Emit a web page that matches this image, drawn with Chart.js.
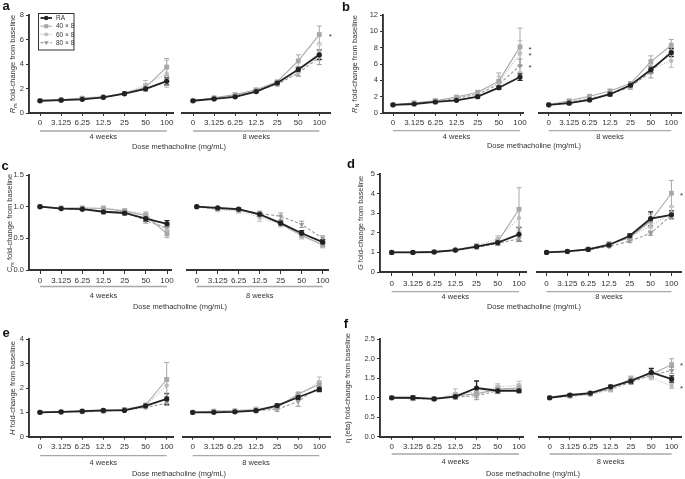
<!DOCTYPE html>
<html><head><meta charset="utf-8">
<script src="https://cdn.jsdelivr.net/npm/chart.js@4.4.1/dist/chart.umd.min.js"></script>
<style>
html,body{margin:0;padding:0;background:#fff;}
body{width:685px;height:479px;position:relative;overflow:hidden;font-family:"Liberation Sans",Arial,sans-serif;color:#333;}
canvas{position:absolute;}
.lbl{position:absolute;font-weight:bold;font-size:13px;line-height:1;color:#111;transform:translate(-50%,-50%);}
.ytitle{position:absolute;font-size:7.5px;white-space:nowrap;transform:translate(-50%,-50%) rotate(-90deg);line-height:1;}
.ytitle sub{font-size:5.5px;vertical-align:-1.5px;line-height:0;}
.dose{position:absolute;font-size:7.5px;white-space:nowrap;transform:translate(-50%,-50%);line-height:1;}
</style></head><body>
<script>
// ---------------- DATA ----------------
const doses = ['0','3.125','6.25','12.5','25','50','100'];
const groups = ['RA','40 × 8','60 × 8','80 × 8'];
const periods = ['4 weeks','8 weeks'];

// (a) Rrs  — rows: RA, 40x8, 60x8, 80x8
const aTicks = [0,2,4,6,8];
const a4 = [[1.00,1.05,1.12,1.28,1.58,1.97,2.60],[1.00,1.08,1.20,1.30,1.60,2.10,3.75],[1.00,1.10,1.25,1.35,1.62,2.30,3.20],[1.00,1.06,1.15,1.30,1.55,1.95,2.55]];
const a4err = [[0.03,0.04,0.05,0.06,0.10,0.12,0.30],[0.03,0.05,0.08,0.08,0.12,0.30,0.70],[0.03,0.05,0.08,0.08,0.12,0.35,1.10],[0.03,0.05,0.06,0.08,0.10,0.15,0.30]];
const a8 = [[1.00,1.15,1.32,1.75,2.45,3.55,4.75],[1.00,1.25,1.50,1.90,2.55,4.25,6.40],[1.00,1.22,1.45,1.85,2.40,3.30,5.00],[1.00,1.20,1.40,1.80,2.35,3.25,4.55]];
const a8err = [[0.03,0.05,0.06,0.08,0.12,0.20,0.40],[0.03,0.06,0.08,0.10,0.10,0.50,0.70],[0.03,0.06,0.08,0.10,0.15,0.25,0.55],[0.03,0.06,0.08,0.10,0.15,0.25,0.60]];
const aStars = [6.35];

// (b) RN
const bTicks = [0,2,4,6,8,10,12];
const b4 = [[1.00,1.10,1.35,1.55,2.00,3.10,4.40],[1.00,1.25,1.50,1.95,2.55,3.90,8.10],[1.00,1.20,1.45,1.85,2.40,3.70,7.30],[1.00,1.15,1.40,1.80,2.30,3.50,5.80]];
const b4err = [[0.05,0.08,0.10,0.10,0.15,0.20,0.40],[0.05,0.10,0.15,0.15,0.20,1.00,2.30],[0.05,0.10,0.30,0.15,0.20,0.80,1.60],[0.05,0.10,0.15,0.15,0.20,0.50,0.80]];
const b8 = [[1.00,1.20,1.60,2.30,3.40,5.30,7.40],[1.00,1.50,2.05,2.70,3.60,6.30,8.30],[1.00,1.35,1.80,2.40,3.30,5.40,6.40],[1.00,1.30,1.75,2.30,3.20,5.00,7.60]];
const b8err = [[0.05,0.08,0.10,0.20,0.20,0.40,0.50],[0.05,0.10,0.15,0.20,0.25,0.70,0.70],[0.05,0.10,0.15,0.20,0.25,0.60,0.80],[0.05,0.10,0.15,0.20,0.30,0.70,0.50]];
const bStars = [8.0,7.3,5.8];

// (c) Crs
const cTicks = [0,0.5,1.0,1.5];
const c4 = [[1.00,0.97,0.96,0.92,0.90,0.81,0.73],[1.00,0.98,0.98,0.97,0.93,0.86,0.57],[1.00,0.98,0.98,0.98,0.94,0.88,0.62],[1.00,0.97,0.96,0.93,0.91,0.78,0.66]];
const c4err = [[0.01,0.01,0.015,0.03,0.03,0.04,0.05],[0.01,0.015,0.02,0.03,0.03,0.04,0.06],[0.01,0.015,0.02,0.03,0.03,0.04,0.06],[0.01,0.015,0.02,0.03,0.03,0.04,0.05]];
const c8 = [[1.00,0.98,0.96,0.88,0.74,0.58,0.44],[1.00,0.97,0.95,0.87,0.73,0.55,0.40],[1.00,0.95,0.93,0.83,0.72,0.53,0.39],[1.00,0.96,0.95,0.89,0.85,0.72,0.50]];
const c8err = [[0.01,0.015,0.02,0.03,0.03,0.04,0.04],[0.01,0.015,0.02,0.03,0.03,0.04,0.04],[0.01,0.03,0.03,0.06,0.04,0.04,0.04],[0.01,0.02,0.02,0.04,0.05,0.05,0.04]];

// (d) G
const dTicks = [0,1,2,3,4,5];
const d4 = [[1.00,1.00,1.02,1.12,1.30,1.50,1.92],[1.00,1.00,1.03,1.12,1.30,1.55,3.20],[1.00,1.01,1.05,1.15,1.35,1.70,2.75],[1.00,1.00,1.02,1.10,1.25,1.45,1.70]];
const d4err = [[0.02,0.02,0.03,0.04,0.08,0.10,0.35],[0.02,0.02,0.03,0.04,0.10,0.15,1.10],[0.02,0.02,0.03,0.04,0.10,0.15,0.50],[0.02,0.02,0.03,0.04,0.08,0.10,0.15]];
const d8 = [[1.00,1.05,1.15,1.38,1.85,2.72,2.92],[1.00,1.05,1.17,1.42,1.75,2.60,4.02],[1.00,1.06,1.18,1.45,1.80,2.35,3.00],[1.00,1.04,1.13,1.30,1.58,1.97,2.90]];
const d8err = [[0.02,0.03,0.04,0.06,0.10,0.35,0.20],[0.02,0.03,0.05,0.10,0.10,0.35,0.65],[0.02,0.03,0.05,0.10,0.10,0.25,0.30],[0.02,0.03,0.04,0.06,0.08,0.10,0.15]];
const dStars = [4.0];

// (e) H
const eTicks = [0,1,2,3,4];
const e4 = [[1.00,1.02,1.05,1.08,1.08,1.27,1.55],[1.00,1.01,1.03,1.05,1.12,1.30,2.35],[1.00,1.02,1.04,1.07,1.13,1.28,2.10],[1.00,1.01,1.02,1.04,1.10,1.20,1.38]];
const e4err = [[0.02,0.02,0.03,0.04,0.04,0.06,0.22],[0.02,0.02,0.03,0.04,0.05,0.06,0.70],[0.02,0.02,0.03,0.04,0.05,0.06,0.30],[0.02,0.02,0.03,0.04,0.05,0.05,0.10]];
const e8 = [[1.00,1.00,1.02,1.07,1.28,1.62,1.95],[1.00,1.05,1.06,1.10,1.20,1.75,2.15],[1.00,1.05,1.08,1.15,1.25,1.70,2.25],[1.00,1.03,1.05,1.08,1.12,1.45,2.05]];
const e8err = [[0.02,0.02,0.03,0.04,0.06,0.10,0.10],[0.02,0.03,0.03,0.05,0.06,0.08,0.15],[0.02,0.03,0.03,0.06,0.06,0.10,0.20],[0.02,0.03,0.03,0.05,0.08,0.20,0.15]];

// (f) eta
const fTicks = [0,0.5,1.0,1.5,2.0,2.5];
const f4 = [[1.00,1.00,0.97,1.03,1.25,1.18,1.18],[1.00,0.98,0.98,1.05,1.10,1.22,1.25],[1.00,0.98,0.97,1.10,1.15,1.28,1.32],[1.00,0.97,0.98,1.02,1.05,1.18,1.20]];
const f4err = [[0.02,0.05,0.03,0.05,0.18,0.07,0.05],[0.02,0.05,0.03,0.08,0.10,0.10,0.10],[0.02,0.05,0.03,0.13,0.10,0.08,0.10],[0.02,0.04,0.03,0.05,0.10,0.06,0.05]];
const f8 = [[1.00,1.07,1.12,1.28,1.43,1.65,1.48],[1.00,1.05,1.10,1.25,1.48,1.60,1.85],[1.00,1.03,1.08,1.20,1.50,1.52,1.30],[1.00,1.04,1.09,1.22,1.40,1.58,1.70]];
const f8err = [[0.02,0.03,0.03,0.04,0.06,0.10,0.08],[0.02,0.03,0.03,0.05,0.06,0.08,0.15],[0.02,0.03,0.03,0.05,0.06,0.06,0.06],[0.02,0.03,0.03,0.05,0.06,0.08,0.08]];
const fStars = [1.86,1.28];

// ---------------- STYLE / LAYOUT ----------------
Chart.defaults.font.family = '"Liberation Sans", Arial, sans-serif';
Chart.defaults.font.size = 8;
Chart.defaults.color = '#333';
const FONT = '7.5px "Liberation Sans", Arial, sans-serif';

const STY = [
  {color:'#222', lw:1.8, dash:[], ps:'circle', pr:2.6, rot:0},
  {color:'#a8a8a8', lw:1.1, dash:[], ps:'rect', pr:3.4, rot:0},
  {color:'#bcbcbc', lw:1.1, dash:[1,1.5], ps:'circle', pr:2.2, rot:0},
  {color:'#9a9a9a', lw:1.1, dash:[3,2], ps:'triangle', pr:3, rot:180}
];

const deco = {
  id:'deco',
  beforeDatasetsDraw(chart){
    const ctx = chart.ctx, ys = chart.scales.y;
    chart.data.datasets.forEach((ds,di)=>{
      const meta = chart.getDatasetMeta(di);
      ctx.save();
      ctx.strokeStyle = ds.borderColor; ctx.lineWidth = ds.errW; ctx.setLineDash([]);
      meta.data.forEach((pt,i)=>{
        const v = ds.data[i].y, e = ds.errors[i];
        if(!e) return;
        const y1 = ys.getPixelForValue(v+e), y2 = ys.getPixelForValue(v-e), x = pt.x;
        ctx.beginPath();
        ctx.moveTo(x,y1); ctx.lineTo(x,y2);
        ctx.moveTo(x-2.5,y1); ctx.lineTo(x+2.5,y1);
        ctx.moveTo(x-2.5,y2); ctx.lineTo(x+2.5,y2);
        ctx.stroke();
      });
      ctx.restore();
    });
  },
  afterDraw(chart, args, o){
    const ctx = chart.ctx, xs = chart.scales.x, ys = chart.scales.y, ca = chart.chartArea;
    const xa = xs.getPixelForValue(0), xb = xs.getPixelForValue(6);
    ctx.save();
    ctx.strokeStyle = '#a8a8a8'; ctx.lineWidth = 1.3;
    ctx.beginPath(); ctx.moveTo(xa, ca.bottom+o.bracketOff); ctx.lineTo(xb, ca.bottom+o.bracketOff); ctx.stroke();
    ctx.fillStyle = '#333'; ctx.font = FONT; ctx.textAlign = 'center'; ctx.textBaseline = 'middle';
    ctx.fillText(o.period, (xa+xb)/2, ca.bottom+o.weeksOff);
    ctx.font = '8px "Liberation Sans", Arial, sans-serif';
    (o.stars||[]).forEach(v=>{ ctx.fillText('*', xb+o.starOff, ys.getPixelForValue(v)+2); });
    if(o.legend){
      ctx.strokeStyle = '#333'; ctx.lineWidth = 1; ctx.setLineDash([]);
      ctx.strokeRect(38.5,13.5,35.5,36.5);
      const ly = [18,26.2,34.4,42.6];
      ctx.font = '6.5px "Liberation Sans", Arial, sans-serif'; ctx.textAlign = 'left';
      groups.forEach((g,k)=>{
        const s = STY[k];
        ctx.strokeStyle = s.color; ctx.lineWidth = s.lw; ctx.setLineDash(s.dash);
        ctx.beginPath(); ctx.moveTo(40.5,ly[k]); ctx.lineTo(52,ly[k]); ctx.stroke();
        ctx.setLineDash([]);
        ctx.fillStyle = s.color;
        Chart.helpers.drawPoint(ctx,{pointStyle:s.ps, radius:s.pr*0.85, rotation:s.rot, borderWidth:0}, 46.2, ly[k]);
        ctx.fillStyle = '#333';
        ctx.fillText(g, 56, ly[k]+0.5);
      });
    }
    ctx.restore();
  }
};

function makeChart(row, sub, isLeft, vals, errs, yTicks, dec, p){
  const cv = document.createElement('canvas');
  cv.width = sub.cw; cv.height = row.h;
  cv.style.left = sub.cx+'px'; cv.style.top = row.top+'px';
  cv.style.width = sub.cw+'px'; cv.style.height = row.h+'px';
  document.body.appendChild(cv);
  const unit = (sub.x6 - sub.x0)/6;
  const xmin = -(sub.x0 - sub.aL)/unit, xmax = 6 + (sub.aR - sub.x6)/unit;
  const yW = isLeft ? sub.aL - sub.cx : 0;
  const XH = 14;
  const datasets = [0,1,2,3].map(k=>({
    label: groups[k],
    data: vals[k].map((v,i)=>({x:i,y:v})),
    errors: errs[k],
    errW: k===0 ? 1.3 : 1,
    borderColor: STY[k].color, backgroundColor: STY[k].color,
    pointBackgroundColor: STY[k].color, pointBorderColor: STY[k].color,
    borderWidth: STY[k].lw, borderDash: STY[k].dash,
    pointStyle: STY[k].ps, pointRadius: STY[k].pr, pointRotation: STY[k].rot,
    pointBorderWidth: 0, tension:0, fill:false, clip:false
  }));
  return new Chart(cv, {
    type:'line',
    data:{datasets},
    options:{
      responsive:false, animation:false, events:[], devicePixelRatio:1,
      layout:{padding:{left: sub.aL - sub.cx - yW, right: sub.cx + sub.cw - sub.aR, top: row.aTop - row.top, bottom: row.top + row.h - row.aBot - XH}},
      scales:{
        x:{type:'linear', bounds:'data', min:xmin, max:xmax,
          afterBuildTicks: s=>{ s.ticks = doses.map((_,i)=>({value:i})); },
          afterFit: s=>{ s.height = XH; },
          ticks:{callback:(v)=>doses[v], padding:p.tickPad, maxRotation:0, autoSkip:false, color:'#333'},
          grid:{display:true, drawOnChartArea:false, drawTicks:true, tickLength:p.tickLen, color:'#333', lineWidth:1},
          border:{display:true, color:'#333', width:1.9}
        },
        y:{type:'linear', display:isLeft, bounds:'data', min:yTicks[0], max:yTicks[yTicks.length-1],
          afterBuildTicks: s=>{ s.ticks = yTicks.map(v=>({value:v})); },
          afterFit: s=>{ s.width = yW; },
          ticks:{callback:(v)=>v.toFixed(dec), padding:2, color:'#333', font:{size:7.5}},
          grid:{display:true, drawOnChartArea:false, drawTicks:true, tickLength:3, color:'#333', lineWidth:1},
          border:{display:true, color:'#333', width:1.9}
        }
      },
      plugins:{legend:{display:false}, tooltip:{enabled:false},
        deco:{period: isLeft ? periods[0] : periods[1], bracketOff:p.bracketOff, weeksOff:p.weeksOff,
              stars: isLeft ? p.starsL : p.starsR, starOff:p.starOff, legend: isLeft && p.legend}}
    },
    plugins:[deco]
  });
}

function addDiv(cls, html, x, y){
  const d = document.createElement('div');
  d.className = cls; d.innerHTML = html;
  d.style.left = x+'px'; d.style.top = y+'px';
  document.body.appendChild(d);
}

const panels = [
  {letter:'a', lx:6, ly:5, title:'<i>R</i><sub>rs</sub> fold-change from baseline', tx:12.7,
   row:{top:0,h:146,aTop:15,aBot:113}, L:{cx:0,cw:178,aL:29,aR:173,x0:40,x6:166.7}, R:{cx:178,cw:160,aL:182,aR:330,x0:193,x6:319.3},
   v4:a4,e4:a4err,v8:a8,e8:a8err, ticks:aTicks, dec:0,
   p:{tickLen:3,tickPad:2,bracketOff:18,weeksOff:24,starOff:11,starsL:[],starsR:aStars,legend:true}, dx:179, dy:146.5},
  {letter:'b', lx:346, ly:6, title:'<i>R</i><sub>N</sub> fold-change from baseline', tx:355,
   row:{top:0,h:146,aTop:15,aBot:113}, L:{cx:340,cw:195,aL:383,aR:523,x0:393,x6:520}, R:{cx:535,cw:150,aL:537,aR:683,x0:547,x6:673},
   v4:b4,e4:b4err,v8:b8,e8:b8err, ticks:bTicks, dec:0,
   p:{tickLen:3,tickPad:2,bracketOff:17.7,weeksOff:23.7,starOff:10,starsL:bStars,starsR:[]}, dx:534, dy:145.7},
  {letter:'c', lx:5, ly:165, title:'<i>C</i><sub>rs</sub> fold-change from baseline', tx:10,
   row:{top:150,h:160,aTop:175,aBot:270}, L:{cx:0,cw:178,aL:29,aR:171,x0:40,x6:167}, R:{cx:178,cw:160,aL:186.7,aR:328,x0:196.7,x6:322.7},
   v4:c4,e4:c4err,v8:c8,e8:c8err, ticks:cTicks, dec:1,
   p:{tickLen:4,tickPad:1.5,bracketOff:16.5,weeksOff:26,starOff:10,starsL:[],starsR:[]}, dx:180, dy:307},
  {letter:'d', lx:351, ly:163, title:'<i>G</i> fold-change from baseline', tx:360.7,
   row:{top:150,h:160,aTop:174,aBot:272}, L:{cx:340,cw:192,aL:380,aR:526.7,x0:391.7,x6:519}, R:{cx:532,cw:153,aL:536.7,aR:683,x0:546.7,x6:673.3},
   v4:d4,e4:d4err,v8:d8,e8:d8err, ticks:dTicks, dec:0,
   p:{tickLen:4,tickPad:2.5,bracketOff:19.7,weeksOff:25,starOff:10,starsL:[],starsR:dStars}, dx:534, dy:306.7},
  {letter:'e', lx:6, ly:332, title:'<i>H</i> fold-change from baseline', tx:12.7,
   row:{top:310,h:169,aTop:339.3,aBot:436.7}, L:{cx:0,cw:178,aL:29,aR:173,x0:40,x6:166.7}, R:{cx:178,cw:160,aL:182.7,aR:330,x0:192.7,x6:319.3},
   v4:e4,e4:e4err,v8:e8,e8:e8err, ticks:eTicks, dec:0,
   p:{tickLen:3,tickPad:2,bracketOff:19,weeksOff:26,starOff:10,starsL:[],starsR:[]}, dx:179, dy:474},
  {letter:'f', lx:346, ly:323, title:'η (eta) fold-change from baseline', tx:348.3,
   row:{top:310,h:169,aTop:339.3,aBot:436.7}, L:{cx:340,cw:195,aL:380,aR:523,x0:391.7,x6:519}, R:{cx:535,cw:150,aL:535.7,aR:683,x0:546.7,x6:673.3},
   v4:f4,e4:f4err,v8:f8,e8:f8err, ticks:fTicks, dec:1,
   p:{tickLen:3,tickPad:2,bracketOff:17.3,weeksOff:25,starOff:10,starsL:[],starsR:fStars}, dx:533, dy:474}
];

panels.forEach(P=>{
  makeChart(P.row, P.L, true, P.v4, P.e4, P.ticks, P.dec, P.p);
  makeChart(P.row, P.R, false, P.v8, P.e8, P.ticks, P.dec, P.p);
  addDiv('lbl', P.letter, P.lx, P.ly);
  addDiv('ytitle', P.title, P.tx, (P.row.aTop+P.row.aBot)/2);
  addDiv('dose', 'Dose methacholine (mg/mL)', P.dx, P.dy);
});
</script>
</body></html>
